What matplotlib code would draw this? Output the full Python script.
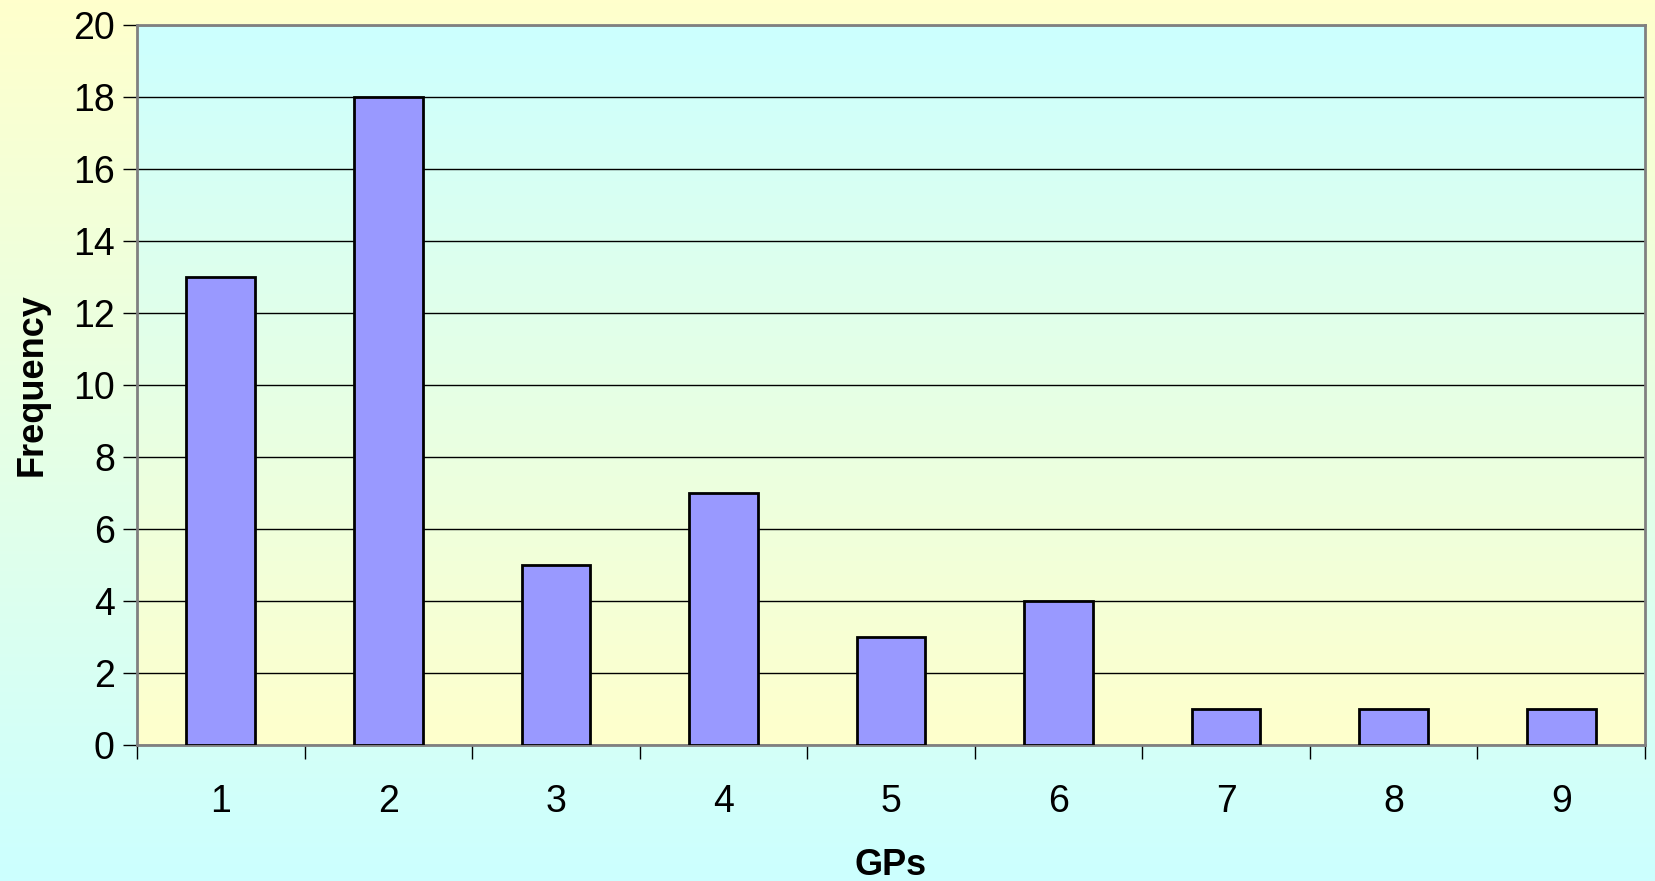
import numpy as np
import matplotlib
matplotlib.use("Agg")
import matplotlib.pyplot as plt
from matplotlib.colors import LinearSegmentedColormap

categories = ["1", "2", "3", "4", "5", "6", "7", "8", "9"]
frequency = [13, 18, 5, 7, 3, 4, 1, 1, 1]
yticks = [0, 2, 4, 6, 8, 10, 12, 14, 16, 18, 20]

plt.rcParams['font.family'] = ['Liberation Sans', 'DejaVu Sans']

fig = plt.figure(figsize=(16.55, 8.81), dpi=100)

# figure background gradient: yellow top -> cyan bottom
bg = fig.add_axes([0, 0, 1, 1], zorder=-10)
grad = np.linspace(0, 1, 256).reshape(-1, 1)
cm_fig = LinearSegmentedColormap.from_list("fig", ["#FFFFCC", "#CCFFFF"])
bg.imshow(grad, aspect='auto', cmap=cm_fig, extent=[0, 1, 0, 1], origin='upper')
bg.axis('off')

L, R, T, B = 137/1655, 1645/1655, 1 - 25/881, 1 - 745/881
ax = fig.add_axes([L, B, R - L, T - B])
ax.patch.set_alpha(0)
cm_ax = LinearSegmentedColormap.from_list("ax", ["#CCFFFF", "#FFFFCC"])
x = np.arange(len(categories))
ax.imshow(grad, aspect='auto', cmap=cm_ax, extent=[-0.5, len(categories) - 0.5, 0, 20],
          origin='upper', zorder=0)

ax.bar(x, frequency, width=0.41, color="#9999FF", edgecolor="black", linewidth=2, zorder=3)

ax.set_xlim(-0.5, len(categories) - 0.5)
ax.set_ylim(0, 20)
ax.set_yticks(yticks)
ax.yaxis.grid(True, color="black", linewidth=1, zorder=1)
ax.set_axisbelow(True)

ax.set_xticks(x)
ax.set_xticklabels(categories)
ax.set_xticks(np.arange(-0.5, len(categories), 1), minor=True)
ax.tick_params(axis='x', which='major', length=0, pad=28, labelsize=27)
ax.tick_params(axis='x', which='minor', length=10, width=1, direction='out', color='black')
ax.tick_params(axis='y', length=10, width=1, direction='out', labelsize=27, pad=6, color='black')

for s in ax.spines.values():
    s.set_color("#808080")
    s.set_linewidth(2)

ax.set_xlabel("GPs", fontsize=26, fontweight='bold', labelpad=20)
ax.set_ylabel("Frequency", fontsize=26, fontweight='bold', labelpad=17)

fig.savefig("out.png", dpi=100)
